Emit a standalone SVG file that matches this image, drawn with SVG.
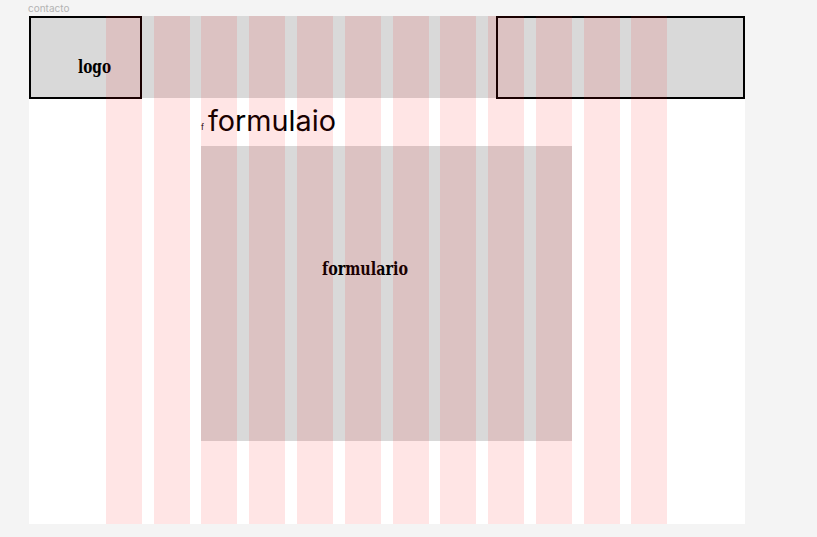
<svg xmlns="http://www.w3.org/2000/svg" width="817" height="537" viewBox="0 0 817 537">
<style>
.col{fill:#ff0000;fill-opacity:0.1}
.box{fill:none;stroke:#000;stroke-width:2}
.slab{font-family:"DejaVu Serif","Liberation Serif",serif;font-weight:bold;font-stretch:condensed;fill:#000}
</style>
<rect width="817" height="537" fill="#f4f4f4"/>
<text x="28" y="12" font-family="Inter,'Liberation Sans',sans-serif" font-size="10" fill="#b3b3b3">contacto</text>
<g id="frame">
<rect x="29" y="16" width="716" height="508" fill="#ffffff"/>
<rect x="29" y="16" width="716" height="82" fill="#d9d9d9"/>
</g>
<g id="formulario">
<rect x="201" y="146" width="371" height="295" fill="#d9d9d9"/>
<text x="322" y="275" class="slab" font-size="19" textLength="86" lengthAdjust="spacingAndGlyphs">formulario</text>
</g>
<g id="titulo">
<text x="201" y="130" font-family="Inter,'Liberation Sans',sans-serif" font-size="8" fill="#000">f</text>
<text x="208" y="131" font-family="Inter,'Liberation Sans',sans-serif" font-size="28" fill="#000" textLength="128" lengthAdjust="spacingAndGlyphs">formulaio</text>
</g>
<g id="logo">
<text x="78" y="73" class="slab" font-size="19" textLength="33" lengthAdjust="spacingAndGlyphs">logo</text>
<rect x="30" y="17" width="111" height="81" class="box"/>
</g>
<g id="nav">
<rect x="497" y="17" width="247" height="81" class="box"/>
</g>
<g id="grid">
<rect class="col" x="106" y="16" width="36" height="508"/>
<rect class="col" x="154" y="16" width="36" height="508"/>
<rect class="col" x="201" y="16" width="36" height="508"/>
<rect class="col" x="249" y="16" width="36" height="508"/>
<rect class="col" x="297" y="16" width="36" height="508"/>
<rect class="col" x="345" y="16" width="36" height="508"/>
<rect class="col" x="393" y="16" width="36" height="508"/>
<rect class="col" x="440" y="16" width="36" height="508"/>
<rect class="col" x="488" y="16" width="36" height="508"/>
<rect class="col" x="536" y="16" width="36" height="508"/>
<rect class="col" x="584" y="16" width="36" height="508"/>
<rect class="col" x="631" y="16" width="36" height="508"/>
</g>
</svg>
